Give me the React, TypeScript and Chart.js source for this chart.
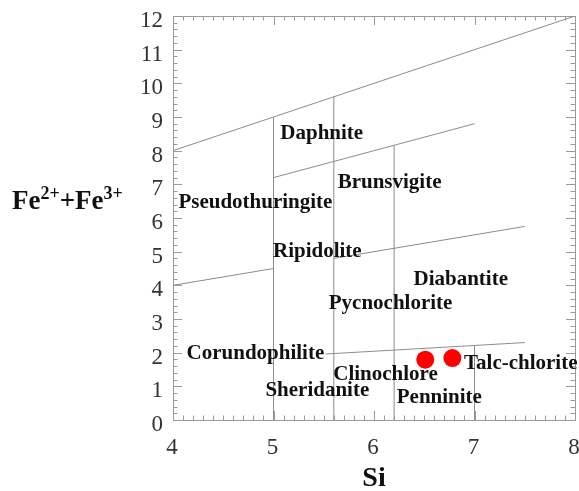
import { useEffect, useRef } from "react";
import { Chart, registerables } from "chart.js";

Chart.register(...registerables);

// Axis ranges and tick labels
const siTicks = [4, 5, 6, 7, 8];
const feTicks = [0, 1, 2, 3, 4, 5, 6, 7, 8, 9, 10, 11, 12];

// Analysed chlorite samples
const sampleSi = [6.51, 6.78];
const sampleFe = [1.79, 1.84];

// Field boundaries of the classification diagram: [Si, Fe] end points
const upperBoundary = [[4, 8], [8, 12]];
const daphniteBoundary = [[5, 7.2], [7, 8.8]];
const ripidoliteWest = [[4, 4], [5, 4.5]];
const ripidoliteEast = [[5.6, 4.8], [7.5, 5.75]];
const corundophiliteBoundary = [[5.52, 1.96], [7.5, 2.3]];
const si50Divider = [[5, 0], [5, 9]];
const si56Divider = [[5.6, 0], [5.6, 9.6]];
const si62Divider = [[6.2, 0], [6.2, 8.16]];
const si70Divider = [[7, 0], [7, 2.21]];

const boundaries = [
  upperBoundary,
  daphniteBoundary,
  ripidoliteWest,
  ripidoliteEast,
  corundophiliteBoundary,
  si50Divider,
  si56Divider,
  si62Divider,
  si70Divider,
];

// Field names and where they sit (Si, Fe)
const fieldNames = [
  "Daphnite",
  "Brunsvigite",
  "Pseudothuringite",
  "Ripidolite",
  "Diabantite",
  "Pycnochlorite",
  "Corundophilite",
  "Clinochlore",
  "Talc-chlorite",
  "Sheridanite",
  "Penninite",
];
const fieldSi = [5.48, 6.155, 4.82, 5.436, 6.863, 6.165, 4.82, 6.115, 7.46, 5.436, 6.65];
const fieldFe = [8.52, 7.04, 6.47, 4.99, 4.16, 3.47, 1.96, 1.34, 1.69, 0.86, 0.68];

const SERIF = '"Liberation Serif", "Times New Roman", serif';
const LINE_GREY = "#8c8c8c";
const FRAME_GREY = "#9a9a9a";

const framePlugin = {
  id: "frameAndTicks",
  beforeDatasetsDraw(chart: any) {
    const { ctx, chartArea, scales } = chart;
    const { left, right, top, bottom } = chartArea;
    const xs = scales.x;
    const ys = scales.y;
    ctx.save();
    ctx.strokeStyle = FRAME_GREY;
    ctx.lineWidth = 1;
    ctx.beginPath();
    // inward ticks on all four sides
    for (let i = 0; i <= 40; i++) {
      const v = 4 + i * 0.1;
      const px = Math.round(xs.getPixelForValue(v)) + 0.5;
      const len = i % 10 === 0 ? 9 : 4.5;
      ctx.moveTo(px, bottom);
      ctx.lineTo(px, bottom - len);
      ctx.moveTo(px, top);
      ctx.lineTo(px, top + len);
    }
    for (let i = 0; i <= 60; i++) {
      const v = i * 0.2;
      const py = Math.round(ys.getPixelForValue(v)) + 0.5;
      const len = i % 5 === 0 ? 9 : 4.5;
      ctx.moveTo(left, py);
      ctx.lineTo(left + len, py);
      ctx.moveTo(right, py);
      ctx.lineTo(right - len, py);
    }
    ctx.stroke();
    ctx.strokeRect(Math.round(left) + 0.5, Math.round(top) + 0.5, Math.round(right - left), Math.round(bottom - top));

    // tick labels
    ctx.fillStyle = "#333";
    ctx.font = `23px ${SERIF}`;
    ctx.textBaseline = "alphabetic";
    ctx.textAlign = "center";
    siTicks.forEach((v) => {
      ctx.fillText(String(v), xs.getPixelForValue(v) - 1, 454);
    });
    ctx.textAlign = "right";
    feTicks.forEach((v) => {
      ctx.fillText(String(v), left - 10, ys.getPixelForValue(v) + 11);
    });
    ctx.restore();
  },
  afterDatasetsDraw(chart: any) {
    const { ctx, scales, chartArea } = chart;
    const xs = scales.x;
    const ys = scales.y;
    ctx.save();
    ctx.fillStyle = "#111";
    ctx.font = `bold 21px ${SERIF}`;
    ctx.textAlign = "center";
    ctx.textBaseline = "middle";
    fieldNames.forEach((name, i) => {
      ctx.fillText(name, xs.getPixelForValue(fieldSi[i]), ys.getPixelForValue(fieldFe[i]));
    });

    // x axis title
    ctx.font = `bold 28px ${SERIF}`;
    ctx.textBaseline = "alphabetic";
    ctx.fillText("Si", (chartArea.left + chartArea.right) / 2, 486);

    // y axis title with superscript charges
    ctx.textAlign = "left";
    const base = 209;
    let x = 12;
    const parts: [string, boolean][] = [
      ["Fe", false],
      ["2+", true],
      ["+Fe", false],
      ["3+", true],
    ];
    parts.forEach(([t, sup]) => {
      ctx.font = sup ? `bold 18px ${SERIF}` : `bold 27px ${SERIF}`;
      ctx.fillText(t, x, sup ? base - 10 : base);
      x += ctx.measureText(t).width;
    });
    ctx.restore();
  },
};

export default function App() {
  const canvasRef = useRef<HTMLCanvasElement | null>(null);

  useEffect(() => {
    if (!canvasRef.current) return;
    const datasets: any[] = boundaries.map((seg) => ({
      type: "line",
      data: seg.map(([x, y]) => ({ x, y })),
      borderColor: LINE_GREY,
      borderWidth: 1,
      pointRadius: 0,
      showLine: true,
      fill: false,
      order: 2,
    }));
    datasets.push({
      type: "scatter",
      data: sampleSi.map((x, i) => ({ x, y: sampleFe[i] })),
      backgroundColor: "#ff0000",
      borderColor: "#ff0000",
      borderWidth: 0,
      pointRadius: 9,
      order: 1,
    });

    const chart = new Chart(canvasRef.current, {
      type: "scatter",
      data: { datasets },
      options: {
        animation: false,
        responsive: true,
        maintainAspectRatio: false,
        layout: { autoPadding: false, padding: { left: 0, right: 4, top: 16, bottom: 0 } },
        plugins: { legend: { display: false }, tooltip: { enabled: false } },
        scales: {
          x: {
            type: "linear",
            min: 4,
            max: 8,
            afterBuildTicks: (scale: any) => {
              scale.ticks = siTicks.map((value) => ({ value }));
            },
            afterFit: (scale: any) => {
              scale.height = 71;
            },
            ticks: { display: false },
            grid: { display: false, drawTicks: false },
            border: { display: false },
          },
          y: {
            type: "linear",
            min: 0,
            max: 12,
            afterBuildTicks: (scale: any) => {
              scale.ticks = feTicks.map((value) => ({ value }));
            },
            afterFit: (scale: any) => {
              scale.width = 173;
            },
            ticks: { display: false },
            grid: { display: false, drawTicks: false },
            border: { display: false },
          },
        },
      },
      plugins: [framePlugin],
    });
    return () => chart.destroy();
  }, []);

  return (
    <div style={{ position: "fixed", left: 0, top: 0, width: 579, height: 491, background: "#fff" }}>
      <canvas ref={canvasRef} />
    </div>
  );
}
